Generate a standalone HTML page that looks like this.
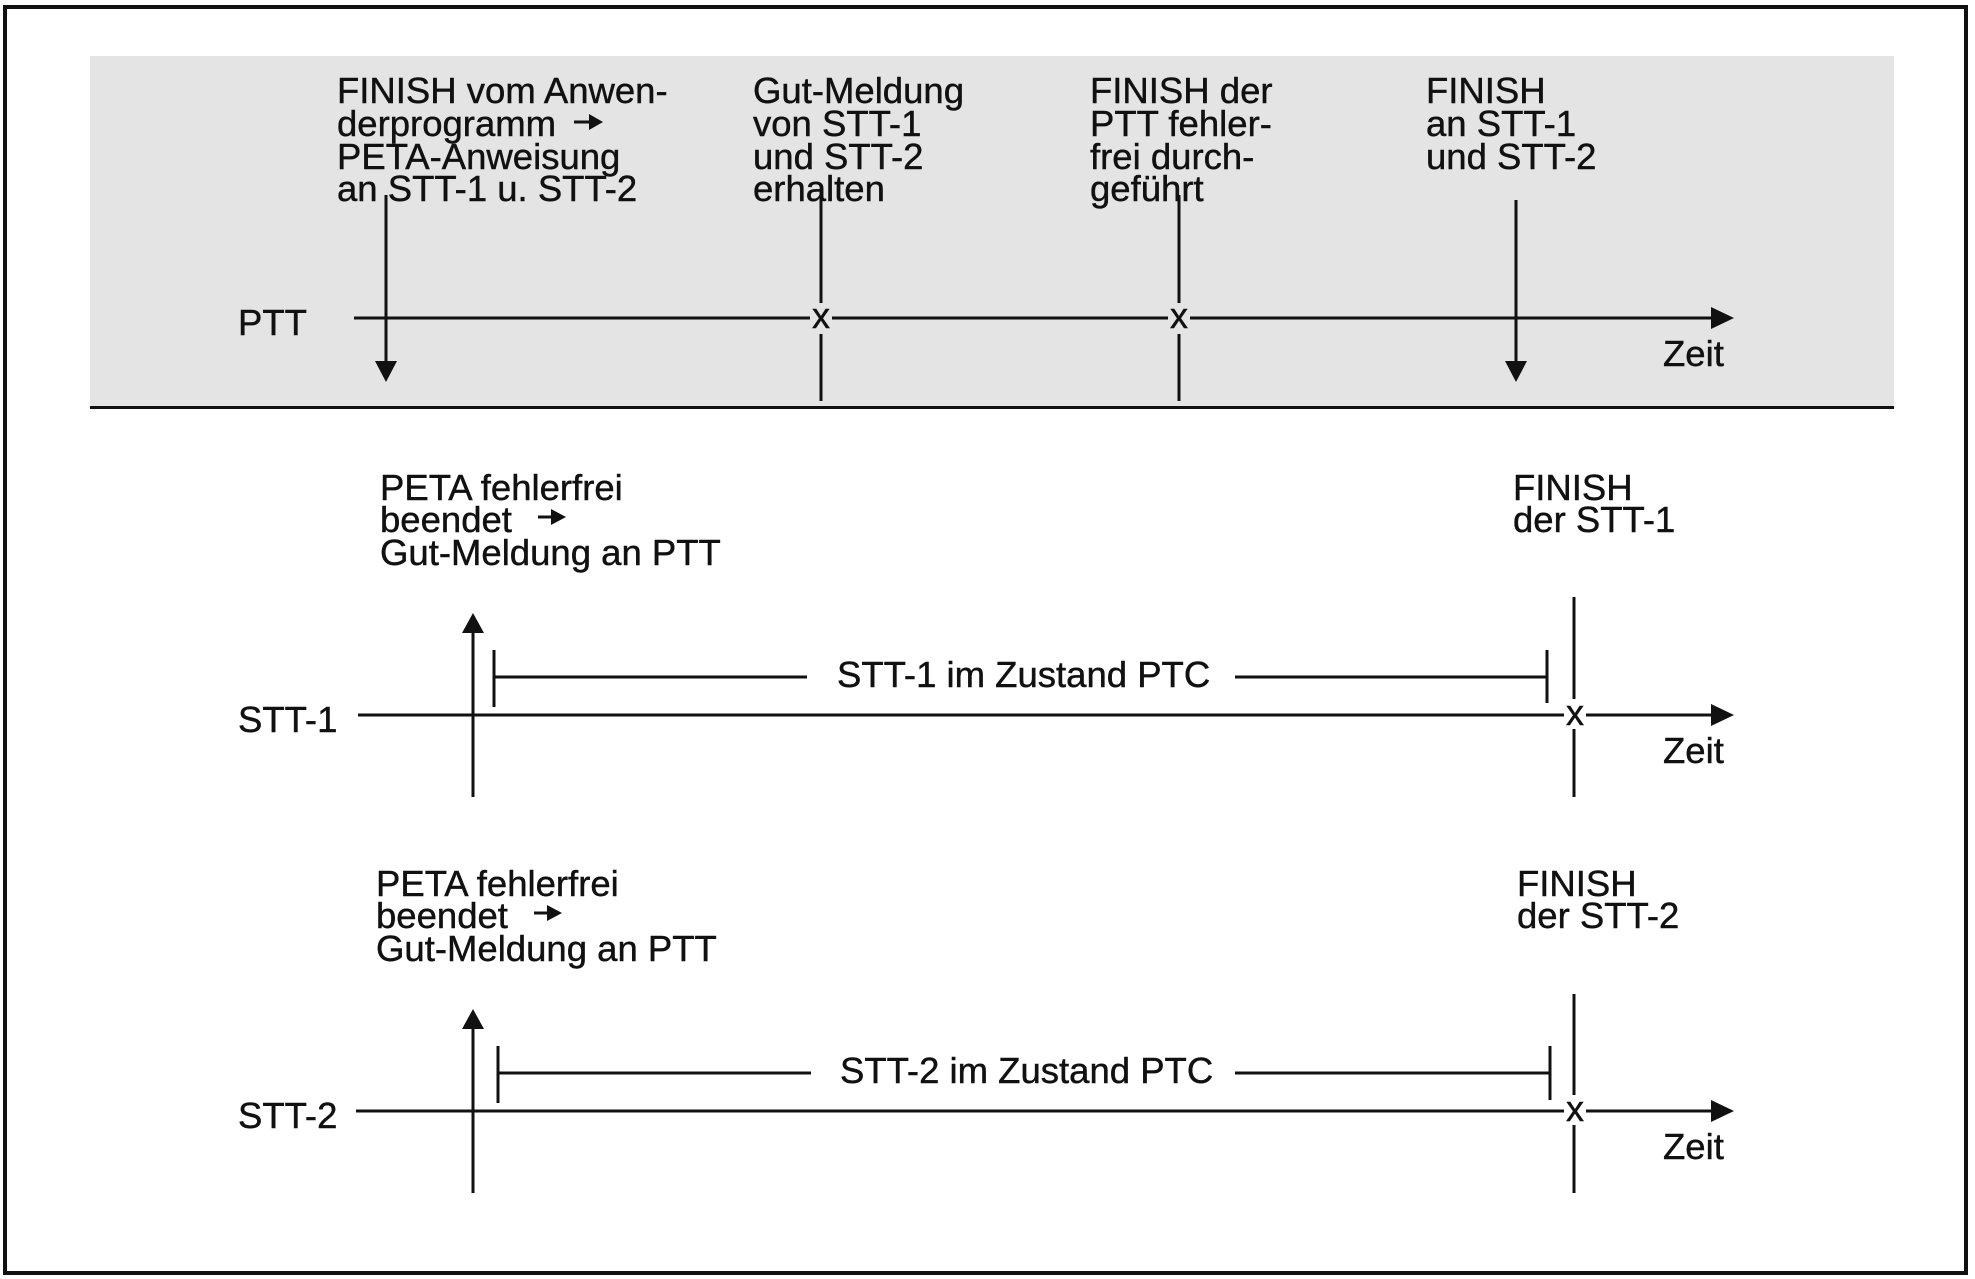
<!DOCTYPE html>
<html>
<head>
<meta charset="utf-8">
<style>
  html, body { margin: 0; padding: 0; background: #ffffff; }
  svg { display: block; }
  text { font-family: "Liberation Sans", Arial, sans-serif; font-size: 36.5px; fill: #111; stroke: #111; stroke-width: 0.45px; }
</style>
</head>
<body>
<svg width="1975" height="1279" viewBox="0 0 1975 1279" xmlns="http://www.w3.org/2000/svg">
  <!-- outer border -->
  <rect x="5" y="7" width="1961" height="1266" fill="#ffffff" stroke="#111" stroke-width="4"/>

  <!-- gray top band -->
  <rect x="90" y="56" width="1804" height="350" fill="#e4e4e4"/>
  <line x1="90" y1="407.5" x2="1894" y2="407.5" stroke="#111" stroke-width="3"/>

  <g stroke="#111" stroke-width="3" fill="none">
    <!-- ===== TOP (PTT) ===== -->
    <line x1="354" y1="318" x2="810" y2="318"/>
    <line x1="832" y1="318" x2="1168" y2="318"/>
    <line x1="1190" y1="318" x2="1714" y2="318"/>
    <!-- V1 -->
    <line x1="386" y1="195" x2="386" y2="364"/>
    <!-- V2 -->
    <line x1="821" y1="192" x2="821" y2="303"/>
    <line x1="821" y1="334" x2="821" y2="401"/>
    <!-- V3 -->
    <line x1="1179" y1="195" x2="1179" y2="303"/>
    <line x1="1179" y1="334" x2="1179" y2="401"/>
    <!-- V4 -->
    <line x1="1516" y1="200" x2="1516" y2="364"/>

    <!-- ===== MIDDLE (STT-1) ===== -->
    <line x1="358" y1="715" x2="1564" y2="715"/>
    <line x1="1586" y1="715" x2="1714" y2="715"/>
    <line x1="473" y1="630" x2="473" y2="797"/>
    <line x1="494" y1="650" x2="494" y2="707"/>
    <line x1="494" y1="677" x2="807" y2="677"/>
    <line x1="1235" y1="677" x2="1547" y2="677"/>
    <line x1="1547" y1="650" x2="1547" y2="703"/>
    <line x1="1574" y1="597" x2="1574" y2="699"/>
    <line x1="1574" y1="729" x2="1574" y2="797"/>

    <!-- ===== BOTTOM (STT-2) ===== -->
    <line x1="356" y1="1111" x2="1564" y2="1111"/>
    <line x1="1586" y1="1111" x2="1714" y2="1111"/>
    <line x1="473" y1="1026" x2="473" y2="1193"/>
    <line x1="498" y1="1046" x2="498" y2="1103"/>
    <line x1="498" y1="1073" x2="811" y2="1073"/>
    <line x1="1235" y1="1073" x2="1550" y2="1073"/>
    <line x1="1550" y1="1046" x2="1550" y2="1100"/>
    <line x1="1574" y1="994" x2="1574" y2="1095"/>
    <line x1="1574" y1="1125" x2="1574" y2="1193"/>

    <!-- small inline arrows shafts -->
    <line x1="574" y1="122" x2="592" y2="122"/>
    <line x1="538" y1="517" x2="554" y2="517"/>
    <line x1="534" y1="913" x2="550" y2="913"/>
  </g>

  <g fill="#111">
    <!-- arrowheads top -->
    <polygon points="1711,307 1734,318 1711,329"/>
    <polygon points="375,361 397,361 386,382"/>
    <polygon points="1505,361 1527,361 1516,382"/>
    <!-- middle -->
    <polygon points="1711,704 1734,715 1711,726"/>
    <polygon points="462,633 484,633 473,613"/>
    <!-- bottom -->
    <polygon points="1711,1100 1734,1111 1711,1122"/>
    <polygon points="462,1029 484,1029 473,1009"/>
    <!-- inline arrows heads -->
    <polygon points="589,114 603,122 589,130"/>
    <polygon points="551,509 566,517 551,525"/>
    <polygon points="547,905 562,913 547,921"/>
  </g>

  <!-- x marks -->
  <g text-anchor="middle">
    <text x="821" y="328" style="font-size:36px">x</text>
    <text x="1179" y="328" style="font-size:36px">x</text>
    <text x="1575" y="725" style="font-size:36px">x</text>
    <text x="1575" y="1121" style="font-size:36px">x</text>
  </g>

  <!-- TOP TEXTS -->
  <text x="337" y="103">FINISH vom Anwen-</text>
  <text x="337" y="136">derprogramm</text>
  <text x="337" y="169">PETA-Anweisung</text>
  <text x="337" y="201">an STT-1 u. STT-2</text>

  <text x="753" y="103">Gut-Meldung</text>
  <text x="753" y="136">von STT-1</text>
  <text x="753" y="169">und STT-2</text>
  <text x="753" y="201">erhalten</text>

  <text x="1090" y="103">FINISH der</text>
  <text x="1090" y="136">PTT fehler-</text>
  <text x="1090" y="169">frei durch-</text>
  <text x="1090" y="201">geführt</text>

  <text x="1426" y="103">FINISH</text>
  <text x="1426" y="136">an STT-1</text>
  <text x="1426" y="169">und STT-2</text>

  <text x="238" y="335">PTT</text>
  <text x="1663" y="366">Zeit</text>

  <!-- MIDDLE TEXTS -->
  <text x="380" y="500">PETA fehlerfrei</text>
  <text x="380" y="532">beendet</text>
  <text x="380" y="565">Gut-Meldung an PTT</text>

  <text x="1513" y="500">FINISH</text>
  <text x="1513" y="532">der STT-1</text>

  <text x="837" y="687">STT-1 im Zustand PTC</text>
  <text x="238" y="732">STT-1</text>
  <text x="1663" y="763">Zeit</text>

  <!-- BOTTOM TEXTS -->
  <text x="376" y="896">PETA fehlerfrei</text>
  <text x="376" y="928">beendet</text>
  <text x="376" y="961">Gut-Meldung an PTT</text>

  <text x="1517" y="896">FINISH</text>
  <text x="1517" y="928">der STT-2</text>

  <text x="840" y="1083">STT-2 im Zustand PTC</text>
  <text x="238" y="1128">STT-2</text>
  <text x="1663" y="1159">Zeit</text>
</svg>
</body>
</html>
